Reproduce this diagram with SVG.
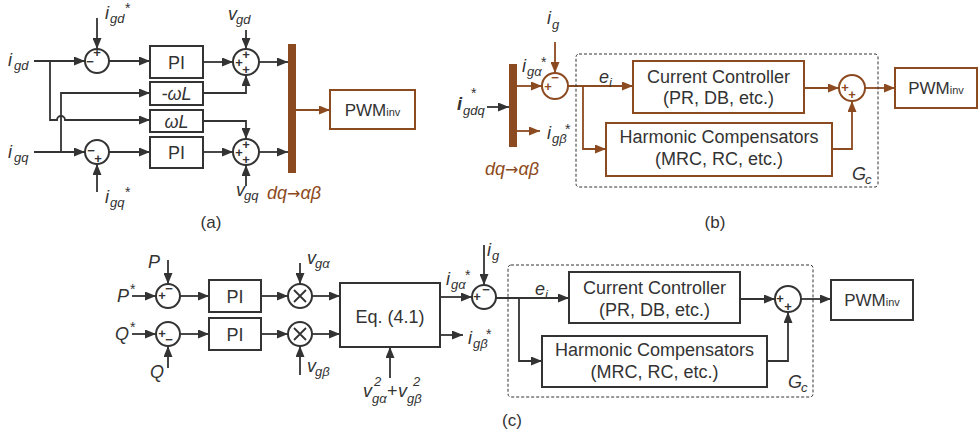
<svg xmlns="http://www.w3.org/2000/svg" width="980" height="436" viewBox="0 0 980 436">
<defs>
<marker id="ad" markerWidth="11" markerHeight="9" refX="11" refY="4.5" orient="auto" markerUnits="userSpaceOnUse"><path d="M0,0 L11,4.5 L0,9 z" fill="#333"/></marker>
<marker id="ab" markerWidth="11" markerHeight="9" refX="11" refY="4.5" orient="auto" markerUnits="userSpaceOnUse"><path d="M0,0 L11,4.5 L0,9 z" fill="#8C4A20"/></marker>
</defs>
<style>
text{font-family:"Liberation Sans",Arial,sans-serif;fill:#333}
.ln{stroke:#333;stroke-width:1.8;fill:none}
.lb{stroke:#8C4A20;stroke-width:1.8;fill:none}
.a{marker-end:url(#ad)}
.b{marker-end:url(#ab)}
.box{fill:#fff;stroke:#333;stroke-width:2}
.bbox{fill:#fff;stroke:#8C4A20;stroke-width:2}
.c{fill:#fff;stroke:#333;stroke-width:2}
.cb{fill:#fff;stroke:#8C4A20;stroke-width:2}
.t{font-size:18px;text-anchor:middle}
.it{font-style:italic;font-size:18px}
.sub{font-style:italic;font-size:13px}
.st{font-size:14px}
.sg{font-size:13px;text-anchor:middle;font-weight:bold}
.sgb{font-size:13px;text-anchor:middle;font-weight:bold;fill:#8C4A20}
.brt{fill:#8C4A20;font-style:italic;font-size:18px}
.arr{font-family:"DejaVu Sans",sans-serif;font-style:normal;font-size:16px}
.dash{fill:none;stroke:#333;stroke-width:1;stroke-dasharray:3,2}
.pw{font-size:17px;text-anchor:middle}
.inv{font-size:11px}
</style>

<g id="connectors">
<!-- panel a -->
<path class="ln a" d="M34 61 H85"/>
<path class="ln a" d="M97 18 V49"/>
<path class="ln a" d="M109 61 H150"/>
<path class="ln a" d="M50 61 V120 H57 A4 4 0 0 1 65 120 H150"/>
<path class="ln a" d="M61 152 V93 H150"/>
<path class="ln a" d="M34 152 H85"/>
<path class="ln a" d="M97 192 V164"/>
<path class="ln a" d="M109 152 H150"/>
<path class="ln a" d="M203 62 H233"/>
<path class="ln a" d="M203 93 H246 V75"/>
<path class="ln a" d="M246 30 V49"/>
<path class="ln a" d="M259 62 H288"/>
<path class="ln a" d="M203 121 H246 V139"/>
<path class="ln a" d="M203 152 H233"/>
<path class="ln a" d="M246 186 V165"/>
<path class="ln a" d="M259 152 H288"/>
<path class="lb b" d="M296 110 H330"/>
<!-- panel b -->
<path class="ln a" d="M487 107 H509"/>
<path class="lb b" d="M517 86 H542"/>
<path class="lb b" d="M555 42 V73"/>
<path class="lb b" d="M517 131 H540"/>
<path class="lb b" d="M568 86 H633"/>
<path class="lb b" d="M583 86 V149 H606"/>
<path class="lb b" d="M804 88 H839"/>
<path class="lb b" d="M832 149 H852 V101"/>
<path class="lb b" d="M865 88 H895"/>
<!-- panel c -->
<path class="ln a" d="M132 296 H156"/>
<path class="ln a" d="M168 260 V284"/>
<path class="ln a" d="M132 334 H156"/>
<path class="ln a" d="M168 368 V346"/>
<path class="ln a" d="M180 296 H209"/>
<path class="ln a" d="M180 334 H209"/>
<path class="ln a" d="M261 296 H288"/>
<path class="ln a" d="M261 334 H288"/>
<path class="ln a" d="M300 263 V284"/>
<path class="ln a" d="M300 375 V346"/>
<path class="ln a" d="M312 296 H340"/>
<path class="ln a" d="M312 334 H340"/>
<path class="ln a" d="M390 378 V347"/>
<path class="ln a" d="M440 297 H472"/>
<path class="ln a" d="M440 335 H463"/>
<path class="ln a" d="M484 245 V285"/>
<path class="ln a" d="M496 298 H569"/>
<path class="ln a" d="M519 298 V361 H542"/>
<path class="ln a" d="M740 299 H775"/>
<path class="ln a" d="M767 361 H788 V312"/>
<path class="ln a" d="M801 299 H831"/>
</g>

<!-- ===== panel (a) ===== -->
<g id="a-labels">
<text x="8" y="66" class="it">i</text><text x="14" y="70" class="sub">gd</text>
<text x="105" y="19" class="it">i</text><text x="110" y="23" class="sub">gd</text><text x="125" y="13" class="st">*</text>
<text x="8" y="158" class="it">i</text><text x="14" y="162" class="sub">gq</text>
<text x="105" y="203" class="it">i</text><text x="110" y="207" class="sub">gq</text><text x="125" y="197" class="st">*</text>
<text x="228" y="20" class="it">v</text><text x="236" y="24" class="sub">gd</text>
<text x="236" y="196" class="it">v</text><text x="244" y="200" class="sub">gq</text>
<text x="267" y="199" class="brt">dq<tspan class="arr">→</tspan>αβ</text>
<text x="211" y="228" class="t" style="font-size:17px">(a)</text>
</g>
<g id="a-sum-d"><circle class="c" cx="97" cy="61" r="12"/><text x="97" y="57" class="sg">+</text><text x="90" y="66" class="sg">−</text></g>
<g id="a-sum-q"><circle class="c" cx="97" cy="152" r="12"/><text x="91" y="155" class="sg">−</text><text x="98" y="163" class="sg">+</text></g>
<g id="a-pi-d"><rect class="box" x="150" y="46" width="53" height="32"/><text x="176.5" y="68.5" class="t">PI</text></g>
<g id="a-wl-neg"><rect class="box" x="150" y="82" width="53" height="23"/><text x="176.5" y="100" class="t" font-style="italic">-ωL</text></g>
<g id="a-wl"><rect class="box" x="150" y="110" width="53" height="22"/><text x="176.5" y="127.5" class="t" font-style="italic">ωL</text></g>
<g id="a-pi-q"><rect class="box" x="150" y="137" width="53" height="31"/><text x="176.5" y="159" class="t">PI</text></g>
<g id="a-add-d"><circle class="c" cx="246" cy="62" r="13"/><text x="246" y="58.5" class="sg">+</text><text x="239" y="66.5" class="sg">+</text><text x="246" y="74" class="sg">+</text></g>
<g id="a-add-q"><circle class="c" cx="246" cy="152" r="13"/><text x="246" y="149" class="sg">+</text><text x="239" y="156.5" class="sg">+</text><text x="246" y="163.5" class="sg">+</text></g>
<g id="a-transform"><rect x="288" y="44" width="8" height="129" fill="#8C4A20"/></g>
<g id="a-pwm"><rect class="bbox" x="330" y="90" width="85" height="39"/><text x="372.5" y="115.5" class="pw">PWM<tspan class="inv">inv</tspan></text></g>

<!-- ===== panel (b) ===== -->
<g id="b-labels">
<text x="457" y="110" class="it" font-weight="bold">i</text><text x="463" y="115" class="sub">gdq</text><text x="471" y="98" class="st">*</text>
<text x="547" y="24" class="it">i</text><text x="552" y="29" class="sub">g</text>
<text x="522" y="72" class="it">i</text><text x="527" y="76" class="sub">gα</text><text x="541" y="67" class="st">*</text>
<text x="547" y="139" class="it">i</text><text x="552" y="143" class="sub">gβ</text><text x="565" y="134" class="st">*</text>
<text x="599" y="83" class="it">e</text><text x="609" y="87" class="sub">i</text>
<text x="485" y="175" class="brt">dq<tspan class="arr">→</tspan>αβ</text>
<text x="852" y="180" class="it">G</text><text x="865" y="184" class="sub">c</text>
<text x="715" y="228" class="t" style="font-size:17px">(b)</text>
</g>
<g id="b-transform"><rect x="509" y="64" width="8" height="83" fill="#8C4A20"/></g>
<g id="b-sum"><circle class="cb" cx="555" cy="86" r="13"/><text x="555" y="82" class="sgb">−</text><text x="548" y="91" class="sgb">+</text></g>
<rect id="b-gc" class="dash" x="576" y="54" width="302" height="133" rx="3"/>
<g id="b-cc"><rect class="bbox" x="633" y="61" width="171" height="52"/><text x="718.5" y="83" class="t">Current Controller</text><text x="718.5" y="104" class="t">(PR, DB, etc.)</text></g>
<g id="b-hc"><rect class="bbox" x="606" y="123" width="226" height="53"/><text x="719" y="143" class="t">Harmonic Compensators</text><text x="719" y="165" class="t">(MRC, RC, etc.)</text></g>
<g id="b-add"><circle class="cb" cx="852" cy="88" r="13"/><text x="845" y="92" class="sgb">+</text><text x="852" y="98.5" class="sgb">+</text></g>
<g id="b-pwm"><rect class="bbox" x="895" y="68" width="82" height="40"/><text x="936" y="93.5" class="pw">PWM<tspan class="inv">inv</tspan></text></g>

<!-- ===== panel (c) ===== -->
<g id="c-labels">
<text x="117" y="302" class="it">P</text><text x="130" y="294" class="st">*</text>
<text x="148" y="268" class="it">P</text>
<text x="115" y="340" class="it">Q</text><text x="130" y="332" class="st">*</text>
<text x="150" y="378" class="it">Q</text>
<text x="307" y="264" class="it">v</text><text x="315" y="268" class="sub">gα</text>
<text x="307" y="372" class="it">v</text><text x="315" y="376" class="sub">gβ</text>
<text x="363" y="397" class="it">v</text><text x="372" y="403" class="sub">gα</text><text x="374" y="386" class="sub">2</text>
<text x="387" y="397" style="font-size:18px">+</text>
<text x="398" y="397" class="it">v</text><text x="407" y="403" class="sub">gβ</text><text x="413" y="386" class="sub">2</text>
<text x="446" y="285" class="it">i</text><text x="451" y="289" class="sub">gα</text><text x="465" y="280" class="st">*</text>
<text x="468" y="344" class="it">i</text><text x="473" y="348" class="sub">gβ</text><text x="486" y="339" class="st">*</text>
<text x="487" y="256" class="it">i</text><text x="492" y="260" class="sub">g</text>
<text x="535" y="295" class="it">e</text><text x="545" y="299" class="sub">i</text>
<text x="788" y="388" class="it">G</text><text x="801" y="392" class="sub">c</text>
<text x="512" y="426" class="t" style="font-size:17px">(c)</text>
</g>
<g id="c-sum-p"><circle class="c" cx="168" cy="296" r="12"/><text x="169" y="293" class="sg">−</text><text x="162" y="299.5" class="sg">+</text></g>
<g id="c-sum-q"><circle class="c" cx="168" cy="334" r="12"/><text x="162" y="337.5" class="sg">+</text><text x="169" y="344" class="sg">−</text></g>
<g id="c-pi-p"><rect class="box" x="209" y="280" width="52" height="32"/><text x="235" y="302.5" class="t">PI</text></g>
<g id="c-pi-q"><rect class="box" x="209" y="318" width="52" height="32"/><text x="235" y="340.5" class="t">PI</text></g>
<g id="c-mul-a"><circle class="c" cx="300" cy="296" r="12"/><path class="ln" d="M294 290 L306 302 M306 290 L294 302"/></g>
<g id="c-mul-b"><circle class="c" cx="300" cy="334" r="12"/><path class="ln" d="M294 328 L306 340 M306 328 L294 340"/></g>
<g id="c-eq"><rect class="box" x="340" y="283" width="100" height="64"/><text x="390" y="323" class="t">Eq. (4.1)</text></g>
<g id="c-sum-i"><circle class="c" cx="484" cy="297" r="12"/><text x="486" y="294" class="sg">−</text><text x="477" y="301" class="sg">+</text></g>
<rect id="c-gc" class="dash" x="508" y="265" width="305" height="132" rx="3"/>
<g id="c-cc"><rect class="box" x="569" y="272" width="171" height="51"/><text x="654.5" y="294" class="t">Current Controller</text><text x="654.5" y="316" class="t">(PR, DB, etc.)</text></g>
<g id="c-hc"><rect class="box" x="542" y="336" width="225" height="51"/><text x="654.5" y="356" class="t">Harmonic Compensators</text><text x="654.5" y="378" class="t">(MRC, RC, etc.)</text></g>
<g id="c-add"><circle class="c" cx="788" cy="299" r="13"/><text x="780" y="303" class="sg">+</text><text x="788" y="311" class="sg">+</text></g>
<g id="c-pwm"><rect class="box" x="831" y="280" width="82" height="40"/><text x="872" y="305.5" class="pw">PWM<tspan class="inv">inv</tspan></text></g>
</svg>
